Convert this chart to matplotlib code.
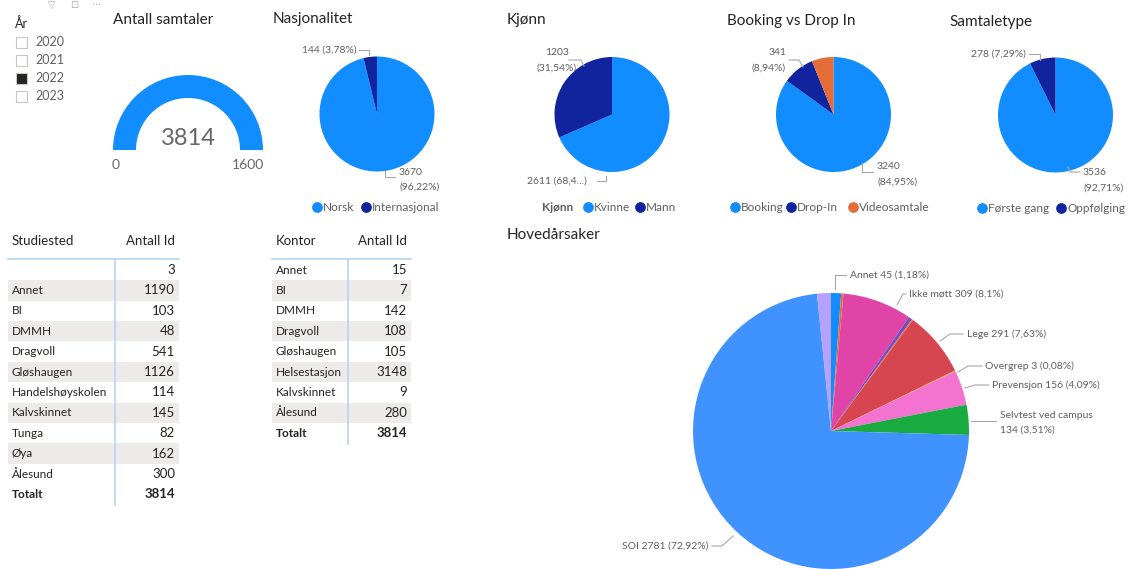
import numpy as np
import matplotlib.pyplot as plt
from matplotlib.patches import Wedge, Rectangle

# data
years = ["2020", "2021", "2022", "2023"]
year_selected = "2022"

antall_samtaler = 3814
gauge_max = 1600

nasj_labels = ["Norsk", "Internasjonal"]
nasj_values = [3670, 144]

kjonn_labels = ["Kvinne", "Mann"]
kjonn_values = [2611, 1203]

booking_labels = ["Booking", "Drop-In", "Videosamtale"]
booking_values = [3240, 341, 233]

samtale_labels = ["Første gang", "Oppfølging"]
samtale_values = [3536, 278]

aarsak_labels = ["Annet", "", "Ikke møtt", "", "", "Lege", "Overgrep",
                 "Prevensjon", "Selvtest ved campus", "SOI", ""]
aarsak_values = [45, 10, 309, 17, 6, 291, 3, 156, 134, 2781, 62]

studiested = ["", "Annet", "BI", "DMMH", "Dragvoll", "Gløshaugen", "Handelshøyskolen",
              "Kalvskinnet", "Tunga", "Øya", "Ålesund"]
studiested_antall = [3, 1190, 103, 48, 541, 1126, 114, 145, 82, 162, 300]

kontor = ["Annet", "BI", "DMMH", "Dragvoll", "Gløshaugen", "Helsestasjon", "Kalvskinnet", "Ålesund"]
kontor_antall = [15, 7, 142, 108, 105, 3148, 9, 280]

# farger (Power BI standard)
BLUE = "#118DFF"
DARK = "#12239E"
ORANGE = "#E66C37"
aarsak_colors = ["#118DFF", "#E66C37", "#E044A7", "#744EC2", "#E66C37", "#D64550",
                 "#D9B300", "#F472D0", "#1AAB40", "#4092FF", "#B5A1FF"]

TXT = "#252423"
GREY = "#605E5C"
LINE = "#A8A8A8"
FONT = "Lato"

W, H = 1130, 569
def Y(y):
    return H - y

fig = plt.figure(figsize=(W / 100, H / 100), dpi=100)
ax = fig.add_axes([0, 0, 1, 1])


def title(x, y, s):
    ax.text(x, Y(y), s, fontsize=11, color=TXT, family=FONT, va="center", ha="left")


def label(x, y, s, ha="left", size=7.5):
    ax.text(x, Y(y), s, fontsize=size, color=GREY, family=FONT, va="center", ha=ha)


def leader(pts):
    xs = [p[0] for p in pts]
    ys = [Y(p[1]) for p in pts]
    ax.plot(xs, ys, color=LINE, lw=0.8)


def pie(values, colors, cx, cy, r):
    ax.pie(values, colors=colors, center=(cx, Y(cy)), radius=r, startangle=90,
           counterclock=False, frame=True, wedgeprops=dict(linewidth=0))


def legend(items, y, head=None):
    for x, s, c in items:
        ax.scatter([x], [Y(y)], s=45, color=c, zorder=5)
        ax.text(x + 6, Y(y), s, fontsize=8.5, color=GREY, family=FONT, va="center")
    if head:
        ax.text(head[0], Y(y), head[1], fontsize=8.5, color=GREY, family=FONT,
                va="center", weight="bold")


# litt toppmeny
ax.text(48, Y(5), "▽", fontsize=7, color="#B0B0B0", va="center")
ax.text(70, Y(5), "⊡", fontsize=7, color="#B0B0B0", va="center")
ax.text(92, Y(5), "···", fontsize=7, color="#B0B0B0", va="center")

# slicer
ax.text(15, Y(24), "År", fontsize=9, color=TXT, family=FONT, va="center")
for i, yr in enumerate(years):
    yy = 42 + i * 18
    fc = "#252423" if yr == year_selected else "white"
    ax.add_patch(Rectangle((16, Y(yy + 5.5)), 11, 11, facecolor=fc, edgecolor="#C8C6C4", lw=0.8))
    ax.text(35, Y(yy), yr, fontsize=9, color=GREY, family=FONT, va="center")

# gauge
title(113, 20, "Antall samtaler")
gx, gy = 188, 150
frac = min(antall_samtaler / gauge_max, 1.0)
ax.add_patch(Wedge((gx, Y(gy)), 75, 180 - 180 * frac, 180, width=23, color=BLUE, lw=0))
ax.text(gx, Y(138), str(antall_samtaler), fontsize=17, color="#666666", family=FONT, ha="center", va="center")
ax.text(116, Y(165), "0", fontsize=10, color="#666666", family=FONT, ha="center", va="center")
ax.text(248, Y(165), str(gauge_max), fontsize=10, color="#666666", family=FONT, ha="center", va="center")

# Nasjonalitet
title(273, 19, "Nasjonalitet")
pie(nasj_values, [BLUE, DARK], 377, 114, 57.5)
label(357, 50, "144 (3,78%)", ha="right")
leader([(359, 50), (369, 50), (369, 55)])
leader([(385, 171), (385, 177), (395, 177)])
label(399, 172, "3670")
label(399, 187, "(96,22%)")
legend([(317, "Norsk", BLUE), (366, "Internasjonal", DARK)], 207)

# Kjønn
title(507, 20, "Kjønn")
pie(kjonn_values, [BLUE, DARK], 612, 114.5, 57.5)
label(557, 52, "1203", ha="center")
label(557, 68, "(31,54%)", ha="center")
leader([(569, 60), (581, 60), (584, 66)])
label(527, 181, "2611 (68,4...)")
leader([(597, 181), (606, 181), (606, 176)])
legend([(588, "Kvinne", BLUE), (640, "Mann", DARK)], 207, head=(542, "Kjønn"))

# Booking vs Drop In
title(727, 21, "Booking vs Drop In")
pie(booking_values, [BLUE, DARK, ORANGE], 833.5, 114.5, 57.5)
label(786, 52, "341", ha="right")
label(786, 68, "(8,94%)", ha="right")
leader([(789, 60), (799, 60), (803, 67)])
leader([(862, 163), (862, 172), (873, 172)])
label(877, 166, "3240")
label(877, 182, "(84,95%)")
legend([(735, "Booking", BLUE), (791, "Drop-In", DARK), (853, "Videosamtale", ORANGE)], 207)

# Samtaletype
title(949, 22, "Samtaletype")
pie(samtale_values, [BLUE, DARK], 1055.5, 115, 57.5)
label(1026, 54, "278 (7,29%)", ha="right")
leader([(1029, 54), (1040, 54), (1040, 60)])
leader([(1068, 167), (1070, 172), (1080, 172)])
label(1083, 172, "3536")
label(1083, 188, "(92,71%)")
legend([(982, "Første gang", BLUE), (1061, "Oppfølging", DARK)], 208)


# tabeller
def table(x0, x1, xsep, y0, head, names, values, total):
    ax.text(x0 + 4, Y(y0), head, fontsize=9.5, color=TXT, family=FONT, va="center")
    ax.text(x1 - 4, Y(y0), "Antall Id", fontsize=9.5, color=TXT, family=FONT, va="center", ha="right")
    ax.plot([x0, x1], [Y(y0 + 18), Y(y0 + 18)], color="#B6D4F2", lw=1.2)
    step = 20.4
    top = y0 + 29
    for i, (n, v) in enumerate(zip(names, values)):
        yy = top + i * step
        if i % 2 == 1:
            ax.add_patch(Rectangle((x0, Y(yy + step / 2)), x1 - x0, step,
                                   facecolor="#EDEBE9", edgecolor="none", zorder=0))
        ax.text(x0 + 4, Y(yy), n, fontsize=8.5, color=TXT, family=FONT, va="center")
        ax.text(x1 - 4, Y(yy), str(v), fontsize=9.5, color=TXT, family=FONT, va="center", ha="right")
    yy = top + len(names) * step
    ax.text(x0 + 4, Y(yy), "Totalt", fontsize=8.5, color=TXT, family=FONT, va="center", weight="bold")
    ax.text(x1 - 4, Y(yy), str(total), fontsize=9.5, color=TXT, family=FONT, va="center",
            ha="right", weight="bold")
    ax.plot([xsep, xsep], [Y(y0 + 18), Y(yy + 11)], color="#B6D4F2", lw=1.2)


table(8, 179, 115, 241, "Studiested", studiested, studiested_antall, sum(studiested_antall))
table(272, 411, 348, 241, "Kontor", kontor, kontor_antall, sum(kontor_antall))

# Hovedårsaker
title(507, 235, "Hovedårsaker")
pie(aarsak_values, aarsak_colors, 831, 431, 138)
total = sum(aarsak_values)
def pct(v):
    return ("%.2f" % (100 * v / total)).rstrip("0").replace(".", ",")

lbl = dict(zip(aarsak_labels, aarsak_values))
label(850, 275, "Annet %d (%s%%)" % (lbl["Annet"], pct(lbl["Annet"])))
leader([(835, 289), (835, 275), (846, 275)])
label(909, 294, "Ikke møtt %d (%s%%)" % (lbl["Ikke møtt"], pct(lbl["Ikke møtt"])))
leader([(897, 305), (903, 294), (906, 294)])
label(967, 334, "Lege %d (%s%%)" % (lbl["Lege"], pct(lbl["Lege"])))
leader([(940, 341), (950, 334), (963, 334)])
label(985, 366, "Overgrep %d (%s%%)" % (lbl["Overgrep"], pct(lbl["Overgrep"])))
leader([(958, 372), (968, 366), (982, 366)])
label(992, 385, "Prevensjon %d (%s%%)" % (lbl["Prevensjon"], pct(lbl["Prevensjon"])))
leader([(965, 388), (975, 385), (989, 385)])
label(1000, 415, "Selvtest ved campus")
label(1000, 430, "%d (%s%%)" % (lbl["Selvtest ved campus"], pct(lbl["Selvtest ved campus"])))
leader([(971, 421), (996, 421)])
label(708, 546, "SOI %d (%s%%)" % (lbl["SOI"], pct(lbl["SOI"])), ha="right")
leader([(712, 546), (722, 546), (733, 536)])

ax.set_xlim(0, W)
ax.set_ylim(0, H)
ax.axis("off")
fig.savefig("out.png", dpi=100)
